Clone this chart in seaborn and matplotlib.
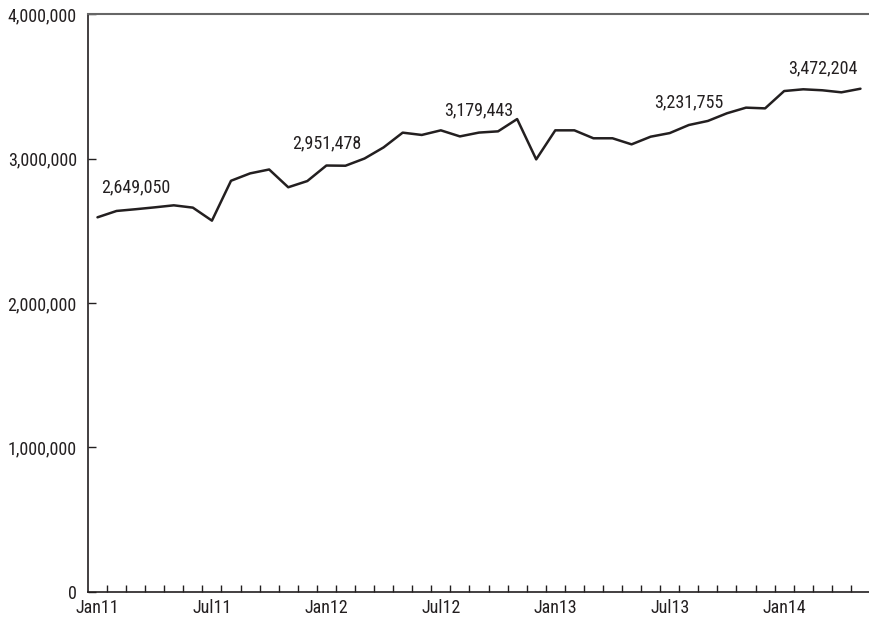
import matplotlib
matplotlib.use("Agg")
import matplotlib.pyplot as plt
import matplotlib.ticker as mticker
from matplotlib import font_manager
import numpy as np
import pandas as pd
import seaborn as sns

# monthly values, Jan 2011 .. May 2014
values = [2593000, 2637000, 2649050, 2662000, 2676000, 2660000, 2570000, 2846000,
          2897000, 2924000, 2801000, 2844000, 2951478, 2950000, 3000000, 3077000,
          3179000, 3163000, 3195000, 3153000, 3179443, 3188000, 3273000, 2994000,
          3195000, 3195000, 3140000, 3140000, 3098000, 3151000, 3176000, 3231755,
          3260000, 3313000, 3352000, 3347000, 3467000, 3479000, 3472204, 3458000,
          3483000]
tick_labels = ["Jan11", "Jul11", "Jan12", "Jul12", "Jan13", "Jul13", "Jan14"]
label_months = [2, 12, 20, 31, 38]
label_texts = ["2,649,050", "2,951,478", "3,179,443", "3,231,755", "3,472,204"]

df = pd.DataFrame({"month": np.arange(len(values)) + 0.5, "value": values})

# pick a narrow face if one is installed
names = {f.name for f in font_manager.fontManager.ttflist}
narrow = [n for n in ["Liberation Sans Narrow", "Roboto Condensed", "Open Sans Condensed"]
          if n in names]

sns.set_style("white")
if narrow:
    plt.rcParams["font.family"] = [narrow[0], "DejaVu Sans"]
    fs = 13
else:
    plt.rcParams["font.family"] = ["DejaVu Sans"]
    plt.rcParams["font.stretch"] = "condensed"
    fs = 11
plt.rcParams["font.size"] = fs

fig = plt.figure(figsize=(8.7, 6.23), dpi=100)
ax = fig.add_axes([0.1011, 0.0498, 0.8989, 0.9277])

sns.lineplot(data=df, x="month", y="value", color="#231f20", linewidth=1.8, ax=ax)

# value callouts above selected months
for m, t in zip(label_months, label_texts):
    ax.annotate(t, (df["month"][m], df["value"][m]), xytext=(0, 16),
                textcoords="offset points", ha="center", va="center",
                fontsize=fs, color="#231f20")

ax.set_xlim(0, len(values))
ax.set_ylim(0, 4000000)
ax.set_xlabel("")
ax.set_ylabel("")

ax.xaxis.set_major_locator(mticker.FixedLocator(np.arange(0, len(values), 6) + 0.5))
ax.xaxis.set_major_formatter(mticker.FixedFormatter(tick_labels))
ax.xaxis.set_minor_locator(mticker.FixedLocator(np.arange(1, len(values))))
ax.tick_params(axis="x", which="major", bottom=True, length=0, pad=5, labelsize=fs,
               colors="#231f20")
ax.tick_params(axis="x", which="minor", bottom=True, direction="in", length=5, width=1,
               color="#231f20")

ax.yaxis.set_major_locator(mticker.MultipleLocator(1000000))
ax.yaxis.set_major_formatter(mticker.FuncFormatter(lambda v, p: "{:,.0f}".format(v)))
ax.tick_params(axis="y", left=True, direction="in", length=6, width=1, pad=8,
               labelsize=fs, color="#231f20", labelcolor="#231f20")

for s in ["left", "bottom"]:
    ax.spines[s].set_color("#231f20")
    ax.spines[s].set_linewidth(1.2)
ax.spines["right"].set_visible(False)
ax.spines["top"].set_color("#666666")
ax.spines["top"].set_linewidth(1.5)

fig.savefig("out.png", dpi=100)
